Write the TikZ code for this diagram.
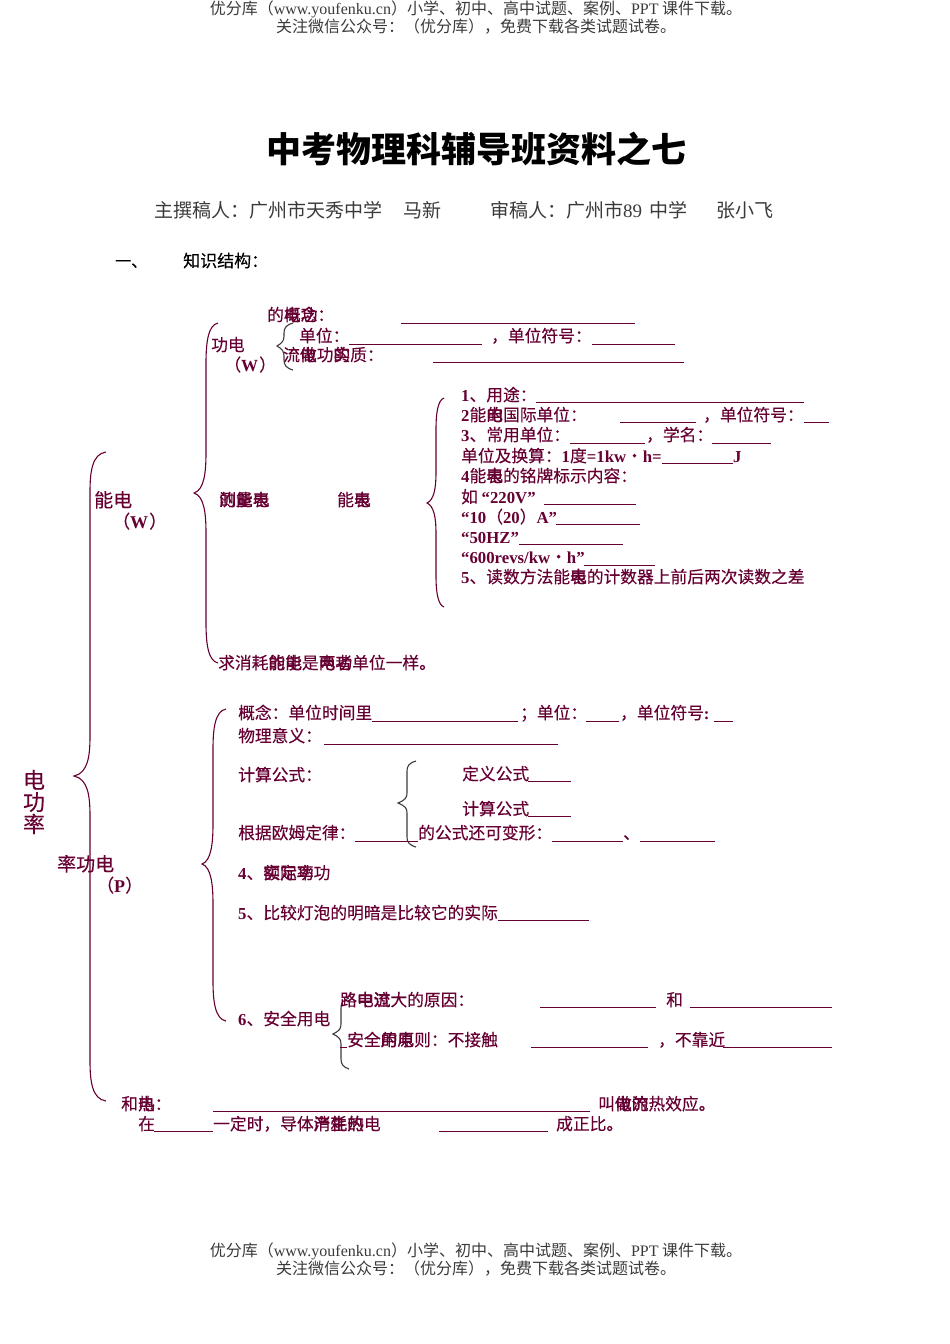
\documentclass[tikz,border=0pt]{standalone}
\usepackage{fontspec}
\usepackage{xcolor}
\setmainfont{Noto Sans CJK SC}
\newfontfamily\latinfont{Liberation Serif}
\newfontfamily\heavyfont[FakeBold=0.25]{Noto Sans CJK SC}
\definecolor{plum-red}{HTML}{660033}
\definecolor{ink-grey}{HTML}{3a3a3a}
\usetikzlibrary{positioning}
\newcommand{\ltn}[1]{{\latinfont\bfseries #1}}
\newcommand{\ovr}[2]{\rlap{#1}#2}
% end of bar, bar, tip, top, middle, bottom, bend
\newcommand{\curly}[8][plum-red]{
  \draw[curlyline,#1] (#2,#5) .. controls (#3+2,#5+2) and (#3,#5+#8/2) .. (#3,#5+#8) -- (#3,#6-#8)
    .. controls (#3,#6-#8/2) and (#3-2,#6-3) .. (#4,#6) .. controls (#3-2,#6+3) and (#3,#6+#8/2) .. (#3,#6+#8)
    -- (#3,#7-#8) .. controls (#3,#7-#8/2) and (#3+2,#7-2) .. (#2,#7);
}
\tikzset{
    lbl/.style={anchor=base west, inner sep=0pt, text=plum-red, font=\heavyfont\fontsize{16.75}{18}\selectfont},
    big/.style={lbl, font=\heavyfont\fontsize{19}{21}\selectfont},
    head/.style={anchor=base, inner sep=0pt, text=ink-grey, font=\fontsize{16}{18}\selectfont},
    byline/.style={anchor=base west, inner sep=0pt, text=ink-grey, font=\fontsize{19}{21}\selectfont},
    fillin/.style={plum-red, line width=1pt},
    curlyline/.style={line width=1.1pt}
}

\begin{document}
\begin{tikzpicture}[x=1pt,y=-1pt]
      \useasboundingbox (0,0) rectangle (950,1344);

      % page head and foot
      \node[head] (headA) at (476,14) {优分库（{\latinfont www.youfenku.cn}）小学、初中、高中试题、案例、{\latinfont PPT} 课件下载。};
      \node[head] (headB) at (476,32) {关注微信公众号：（优分库），免费下载各类试题试卷。};
      \node[head] (footA) at (476,1256) {优分库（{\latinfont www.youfenku.cn}）小学、初中、高中试题、案例、{\latinfont PPT} 课件下载。};
      \node[head] (footB) at (476,1274) {关注微信公众号：（优分库），免费下载各类试题试卷。};

      \node[anchor=base, inner sep=0pt, font=\fontsize{35}{38}\selectfont\bfseries] (title) at (476,162) {中考物理科辅导班资料之七};
      \node[byline] (author) at (154,217) {主撰稿人：广州市天秀中学};
      \node[byline] (authorName) at (403,217) {马新};
      \node[byline] (review) at (490,217) {审稿人：广州市{\latinfont 89}\kern3pt{} 中学};
      \node[byline] (reviewName) at (716,217) {张小飞};
      \node[anchor=base west, inner sep=0pt, font=\heavyfont\fontsize{16}{18}\selectfont] (secNum) at (115,267) {一、};
      \node[anchor=base west, inner sep=0pt, font=\heavyfont\fontsize{17}{18}\selectfont] (secName) at (183,267) {知识结构：};

      % tree
      \node[lbl, anchor=center, align=center, font=\heavyfont\fontsize{22}{22}\selectfont] (root) at (34,802) {电\\功\\率};
      \node[big] (energy) at (94,507) {能电};
      \node[lbl, font=\heavyfont\fontsize{18}{20}\selectfont] (energyW) at (110,528) {\kern2pt（\ltn{W}\kern1pt）};
      \node[big] (power) at (57,871) {率功电};
      \node[lbl, font=\heavyfont\fontsize{18}{20}\selectfont] (powerP) at (96,892) {（\ltn{P}）};
      \curly{106}{90}{74}{452}{776}{1101}{40}
      \curly{218}{206}{194}{323}{493}{663}{40}
      \curly{226}{213}{202}{709}{864}{1021}{40}

      % work
      \node[lbl] (work) at (211,351) {功电};
      \node[lbl, font=\heavyfont\fontsize{17}{20}\selectfont] (workW) at (224,371) {（\ltn{W}\kern1pt）};
      \curly[ink-grey]{293}{284}{277}{323}{346}{370}{10}
      \node[lbl] (workIdea) at (267,321) {的\ovr{电}{概}\ovr{功}{念}：};
      \node[lbl] (workUnit) at (299,342) {单位：};
      \node[lbl] (workUnitB) at (491,342) {，单位符号：};
      \node[lbl] (workCore) at (283,361) {流\ovr{电}{做}功\ovr{的}{实}质：};
      \draw[fillin] (401,323) -- (635,323);
      \draw[fillin] (349,344) -- (482,344);
      \draw[fillin] (592,344) -- (675,344);
      \draw[fillin] (433,362) -- (684,362);

      % meter
      \node[lbl] (meterA) at (219,506) {\ovr{的}{测}\ovr{能}{量}\ovr{表}{电}};
      \node[lbl] (meterB) at (337,506) {能\ovr{表}{电}};
      \curly{444}{436}{427}{398}{503}{607}{30}
      \node[lbl] (use) at (461,401) {\ltn{1}、用途：};
      \node[lbl] (si) at (461,421) {\ltn{2}能\ovr{电}{的}国际单位：};
      \node[lbl] (siB) at (703,421) {，单位符号：};
      \node[lbl] (common) at (461,441) {\ltn{3}、常用单位：};
      \node[lbl] (commonB) at (646,441) {，学名：};
      \node[lbl] (convert) at (461,462) {单位及换算：\ltn{1}度\ltn{=1kw}・\ltn{h=}};
      \node[lbl] (convertJ) at (733,462) {\ltn{J}};
      \node[lbl] (plate) at (461,482) {\ltn{4}能\ovr{电}{表}的铭牌标示内容：};
      \node[lbl] (plateA) at (461,503) {如 \ltn{“220V”}};
      \node[lbl] (plateB) at (461,523) {\ltn{“10}（\ltn{20}）\ltn{A”}};
      \node[lbl] (plateC) at (461,543) {\ltn{“50HZ”}};
      \node[lbl] (plateD) at (461,563) {\ltn{“600revs/kw}・\ltn{h”}};
      \node[lbl] (read) at (461,583) {\ltn{5}、读数方法能\ovr{电}{表}的计数器上前后两次读数之差};
      \draw[fillin] (536,402) -- (804,402);
      \draw[fillin] (620,422) -- (696,422);
      \draw[fillin] (804,422) -- (829,422);
      \draw[fillin] (570,443) -- (645,443);
      \draw[fillin] (712,443) -- (771,443);
      \draw[fillin] (662,463) -- (733,463);
      \draw[fillin] (544,504) -- (636,504);
      \draw[fillin] (556,524) -- (640,524);
      \draw[fillin] (519,544) -- (623,544);
      \draw[fillin] (584,565) -- (655,565);
      \node[lbl] (consume) at (218,669) {求消耗\ovr{的}{能}\ovr{能}{电}是\ovr{电}{两}\ovr{功}{者}单位一样。};

      % power
      \node[lbl] (pIdea) at (238,719) {概念：单位时间里};
      \node[lbl] (pUnit) at (520,719) {；单位：};
      \node[lbl] (pSym) at (620,719) {，单位符号\ltn{:}};
      \node[lbl] (pMean) at (238,742) {物理意义：};
      \node[lbl] (pCalc) at (238,781) {计算公式：};
      \node[lbl] (pDef) at (462,780) {定义公式};
      \node[lbl] (pComp) at (462,815) {计算公式};
      \curly[ink-grey]{416}{407}{398}{761}{803}{847}{10}
      \node[lbl] (pOhm) at (238,839) {根据欧姆定律：};
      \node[lbl] (pOhmB) at (418,839) {的公式还可变形：};
      \node[lbl] (pOhmC) at (623,839) {、};
      \node[lbl] (pRated) at (238,879) {\ltn{4}、\ovr{额}{实}\ovr{定}{际}\ovr{功}{率}功};
      \node[lbl] (pBulb) at (238,919) {\ltn{5}、比较灯泡的明暗是比较它的实际};
      \draw[fillin] (372,721) -- (518,721);
      \draw[fillin] (586,721) -- (619,721);
      \draw[fillin] (714,721) -- (733,721);
      \draw[fillin] (324,744) -- (558,744);
      \draw[fillin] (528,781) -- (571,781);
      \draw[fillin] (528,816) -- (571,816);
      \draw[fillin] (355,841) -- (418,841);
      \draw[fillin] (552,841) -- (623,841);
      \draw[fillin] (640,841) -- (715,841);
      \draw[fillin] (498,920) -- (589,920);

      % safety
      \node[lbl] (safe) at (238,1025) {\ltn{6}、安全用电};
      \curly[ink-grey]{349}{341}{333}{998}{1034}{1069}{10}
      \node[lbl] (safeA) at (340,1006) {路\ovr{电}{中}\ovr{流}{过}大的原因：};
      \node[lbl] (safeAnd) at (666,1006) {和};
      \node[lbl] (safeB) at (347,1046) {安全\ovr{用}{的}\ovr{电}{原}则：不接触};
      \node[lbl] (safeC) at (658,1046) {，不靠近};
      \draw[fillin] (540,1007) -- (656,1007);
      \draw[fillin] (690,1007) -- (832,1007);
      \draw[fillin] (340,1047) -- (347,1047);
      \draw[fillin] (531,1047) -- (648,1047);
      \draw[fillin] (723,1047) -- (832,1047);

      % heat
      \node[lbl] (heat) at (121,1110) {和\ovr{电}{热}：};
      \node[lbl] (heatB) at (598,1110) {叫\ovr{电}{做}\ovr{流}{的}热效应。};
      \node[lbl] (heatC) at (138,1130) {在};
      \node[lbl] (heatD) at (213,1130) {一定时，导体\ovr{消}{产}\ovr{耗}{生}\ovr{的}{热}电};
      \node[lbl] (heatE) at (556,1130) {成正比。};
      \draw[fillin] (213,1111) -- (590,1111);
      \draw[fillin] (154,1131) -- (213,1131);
      \draw[fillin] (439,1131) -- (548,1131);
\end{tikzpicture}
\end{document}
